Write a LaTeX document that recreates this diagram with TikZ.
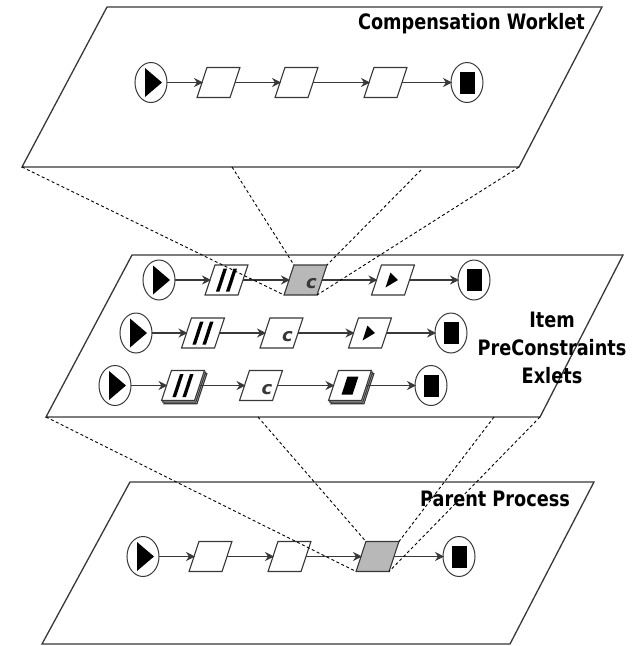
\documentclass[tikz,border=0pt]{standalone}
\usepackage{fontspec}
\setsansfont{DejaVu Sans}
\usepackage{xcolor}
\usetikzlibrary{shapes.geometric}
\usetikzlibrary{shadows}
\usetikzlibrary{arrows.meta}

\definecolor{taskgrey}{gray}{0.72}
\definecolor{linegrey}{gray}{0.22}

\tikzset{
  plane/.style={draw=linegrey, line width=1.3pt},
  flow/.style={draw=linegrey, line width=1.2pt, -{Stealth[length=9pt,width=9pt]}, shorten >=-1pt},
  link/.style={black, line width=0.9pt, dash pattern=on 3pt off 2.5pt},
  event/.style={ellipse, draw=linegrey, line width=1pt, fill=white, minimum width=32pt, minimum height=40pt, inner sep=0pt, outer sep=0pt},
  startev/.style={event, path picture={
    \fill[black] ([xshift=-6pt,yshift=14.5pt]path picture bounding box.center)
      -- ++(17pt,-14.5pt) -- ++(-17pt,-14.5pt) -- cycle;}},
  endev/.style={event, path picture={
    \fill[black] ([xshift=-7.5pt,yshift=-11pt]path picture bounding box.center)
      rectangle ++(15pt,22pt);}},
  task/.style={draw=linegrey, line width=1.1pt, fill=white, minimum width=33pt, minimum height=30pt, inner sep=0pt, outer sep=0pt, xslant=0.33, transform shape},
  gtask/.style={task, fill=taskgrey},
  multi/.style={double copy shadow={shadow xshift=1.2pt, shadow yshift=-1.6pt, fill=taskgrey, draw=linegrey}},
  letter/.style={font=\sffamily\bfseries\itshape\fontsize{18}{18}\selectfont, text=linegrey, inner sep=0pt},
  title/.style={font=\sffamily\bfseries\fontsize{17.7}{23.5}\selectfont, text=black, inner sep=0pt, align=center, yscale=1.2, transform shape},
}

\newcommand{\twobars}{\rule{3.5pt}{23pt}\hspace{6.5pt}\rule{3.5pt}{23pt}}
\newcommand{\smalltri}{\tikz[baseline=-0.5ex]\fill[black] (0pt,7.5pt) -- (10pt,0pt) -- (0pt,-7.5pt) -- cycle;}
\newcommand{\smallbox}{\rule{11pt}{18pt}}

\begin{document}
\begin{tikzpicture}[x=1pt,y=-1pt]
  \useasboundingbox (0,0) rectangle (638,646);

  % planes
  \coordinate (TA) at (107,7);
  \coordinate (TB) at (602,7);
  \coordinate (TC) at (519,167);
  \coordinate (TD) at (22,167);
  \coordinate (MA) at (132,255);
  \coordinate (MB) at (623,255);
  \coordinate (MC) at (540,417);
  \coordinate (MD) at (46,417);
  \coordinate (BA) at (130,482);
  \coordinate (BB) at (594,482);
  \coordinate (BC) at (510,644);
  \coordinate (BD) at (42,644);
  \draw[plane] (TA) -- (TB) -- (TC) -- (TD) -- cycle;
  \draw[plane] (MA) -- (MB) -- (MC) -- (MD) -- cycle;
  \draw[plane] (BA) -- (BB) -- (BC) -- (BD) -- cycle;

  % compensation worklet
  \node[startev] (T-s) at (151,82.5) {};
  \node[task] (T-1) at (218.5,82.5) {};
  \node[task] (T-2) at (296.5,82.5) {};
  \node[task] (T-3) at (385.5,82.5) {};
  \node[endev] (T-e) at (467,82.5) {};
  \draw[flow] (T-s) -- (T-1);
  \draw[flow] (T-1) -- (T-2);
  \draw[flow] (T-2) -- (T-3);
  \draw[flow] (T-3) -- (T-e);

  % item preconstraints exlets
  \node[startev] (A-s) at (159,280) {};
  \node[task] (A-1) at (226.5,280) {\twobars};
  \node[gtask] (A-2) at (305.5,280) {};
  \node[task] (A-3) at (393,280) {\smalltri};
  \node[endev] (A-e) at (474,280) {};
  \node[letter] (A-c) at ([xshift=6pt,yshift=-4pt]A-2.center) {c};
  \draw[flow] (A-s) -- (A-1);
  \draw[flow] (A-1) -- (A-2);
  \draw[flow] (A-2) -- (A-3);
  \draw[flow] (A-3) -- (A-e);

  \node[startev] (B-s) at (136,333) {};
  \node[task] (B-1) at (203,333) {\twobars};
  \node[task] (B-2) at (281.5,333) {};
  \node[task] (B-3) at (370,333) {\smalltri};
  \node[endev] (B-e) at (451,333) {};
  \node[letter] (B-c) at ([xshift=6pt,yshift=-4pt]B-2.center) {c};
  \draw[flow] (B-s) -- (B-1);
  \draw[flow] (B-1) -- (B-2);
  \draw[flow] (B-2) -- (B-3);
  \draw[flow] (B-3) -- (B-e);

  \node[startev] (C-s) at (115,385.5) {};
  \node[task,multi] (C-1) at (183,385.5) {\twobars};
  \node[task] (C-2) at (261,385.5) {};
  \node[task,multi] (C-3) at (350,385.5) {\smallbox};
  \node[endev] (C-e) at (431,385.5) {};
  \node[letter] (C-c) at ([xshift=6pt,yshift=-4pt]C-2.center) {c};
  \draw[flow] (C-s) -- (C-1);
  \draw[flow] (C-1) -- (C-2);
  \draw[flow] (C-2) -- (C-3);
  \draw[flow] (C-3) -- (C-e);

  % parent process
  \node[startev] (P-s) at (143,556.5) {};
  \node[task] (P-1) at (210.5,556.5) {};
  \node[task] (P-2) at (289.5,556.5) {};
  \node[gtask] (P-3) at (377.5,556.5) {};
  \node[endev] (P-e) at (459,556.5) {};
  \draw[flow] (P-s) -- (P-1);
  \draw[flow] (P-1) -- (P-2);
  \draw[flow] (P-2) -- (P-3);
  \draw[flow] (P-3) -- (P-e);

  % zoom lines
  \coordinate (TE) at (232,167);
  \coordinate (TF) at (421,170);
  \coordinate (ME) at (258,417);
  \coordinate (MF) at (494,417);
  \draw[link] (TD) -- (A-2.south west);
  \draw[link] (TE) -- (A-2.north west);
  \draw[link] (TF) -- (A-2.north east);
  \draw[link] (TC) -- (A-2.south east);
  \draw[link] (MD) -- (P-3.south west);
  \draw[link] (ME) -- (P-3.north west);
  \draw[link] (MF) -- (P-3.north east);
  \draw[link] (MC) -- (P-3.south east);

  % titles
  \node[title] (compensation) at (471.5,24) {Compensation Worklet};
  \node[title] (exlets) at (552,348) {Item\\PreConstraints\\Exlets};
  \node[title] (parent) at (495,499) {Parent Process};
\end{tikzpicture}
\end{document}
